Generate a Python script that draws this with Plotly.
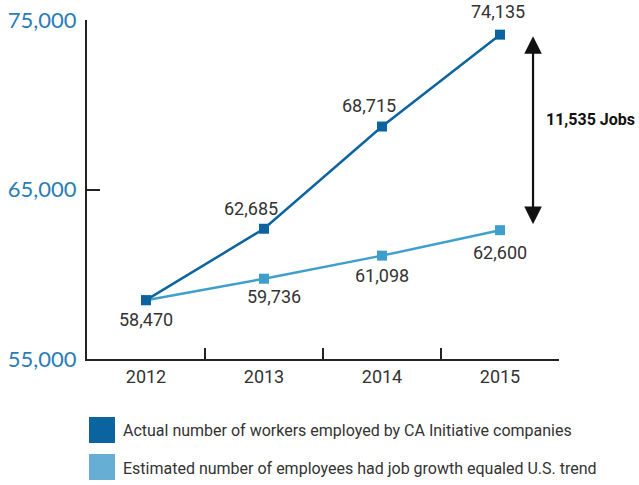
import plotly.graph_objects as go

# ---- data ----
years = ["2012", "2013", "2014", "2015"]
actual = [58470, 62685, 68715, 74135]
estimated = [58470, 59736, 61098, 62600]
y_ticks = [55000, 65000, 75000]
legend_labels = [
    "Actual number of workers employed by CA Initiative companies",
    "Estimated number of employees had job growth equaled U.S. trend",
]

# ---- style ----
W, H = 639, 485
L, R, T, B = 87, 80, 20, 126
DARK = "#0b64a0"
LIGHT = "#3f9fcc"
LEG_LIGHT = "#66aed4"
TXT = "#333333"
COND = "Roboto, Liberation Sans, sans-serif"

pw, ph = W - L - R, H - T - B


def px(x):
    return (x - L) / pw


def py(y):
    return (H - B - y) / ph


fig = go.Figure()
fig.add_trace(go.Scatter(x=years, y=estimated, mode="lines+markers",
                         line=dict(color=LIGHT, width=2.5),
                         marker=dict(symbol="square", size=10, color=LIGHT),
                         showlegend=False, cliponaxis=False))
fig.add_trace(go.Scatter(x=years, y=actual, mode="lines+markers",
                         line=dict(color=DARK, width=2.5),
                         marker=dict(symbol="square", size=10, color=DARK),
                         showlegend=False, cliponaxis=False))

ann = []
act_off = [(0, -19), (-13, 20), (-13, 21), (-2, 23)]
est_off = [None, (10, -18), (0, -20), (0, -22)]
for i, v in enumerate(actual):
    dx, dy = act_off[i]
    ann.append(dict(x=i, y=v, xref="x", yref="y", text=f"{v:,}", showarrow=False,
                    xanchor="center", yanchor="middle",
                    xshift=dx, yshift=dy, font=dict(family=COND, size=18, color=TXT)))
for i, v in enumerate(estimated):
    if est_off[i] is None:
        continue
    dx, dy = est_off[i]
    ann.append(dict(x=i, y=v, xref="x", yref="y", text=f"{v:,}", showarrow=False,
                    xanchor="center", yanchor="middle",
                    xshift=dx, yshift=dy, font=dict(family=COND, size=18, color=TXT)))

# double-headed gap arrow
ann.append(dict(x=3.28, y=estimated[-1], xref="x", yref="y",
                ax=3.28, ay=actual[-1], axref="x", ayref="y",
                showarrow=True, arrowhead=2, startarrowhead=2, arrowside="end+start",
                arrowsize=1.6, startarrowsize=1.6, arrowwidth=2.2, arrowcolor="#111111",
                standoff=6, startstandoff=0, text=""))
gap = actual[-1] - estimated[-1]
ann.append(dict(x=px(637), y=py(119), xref="paper", yref="paper", xanchor="right",
                yanchor="middle", text=f"<b>{gap:,} Jobs</b>", showarrow=False,
                font=dict(family=COND, size=16, color="#111111")))

# legend
shapes = []
for i, (lab, col) in enumerate(zip(legend_labels, [DARK, LEG_LIGHT])):
    y0 = 417 + i * 37
    shapes.append(dict(type="rect", xref="paper", yref="paper",
                       x0=px(89), x1=px(115), y0=py(y0), y1=py(y0 + 26),
                       fillcolor=col, line=dict(width=0)))
    ann.append(dict(x=px(121), y=py(y0 + 14), xref="paper", yref="paper",
                    xanchor="left", yanchor="middle", text=lab, showarrow=False,
                    font=dict(family=COND, size=16, color=TXT)))

fig.update_layout(
    width=W, height=H,
    margin=dict(l=L, r=R, t=T, b=B),
    paper_bgcolor="white", plot_bgcolor="white",
    annotations=ann, shapes=shapes,
    xaxis=dict(type="category", categoryorder="array", categoryarray=years,
               range=[-0.5, 3.5], showgrid=False, zeroline=False, automargin=False,
               showline=True, linecolor="#222222", linewidth=2,
               ticks="inside", tickson="boundaries", ticklen=11, tickwidth=1.5,
               tickcolor="#222222",
               tickfont=dict(family=COND, size=18, color=TXT)),
    yaxis=dict(range=[55000, 75000], tickvals=y_ticks,
               ticktext=[f"{v:,}" for v in y_ticks],
               showgrid=False, zeroline=False, automargin=False,
               showline=True, linecolor="#222222", linewidth=2,
               ticks="inside", ticklen=13, tickwidth=1.5, tickcolor="#222222",
               ticklabelstandoff=4,
               tickfont=dict(family="Lato, Open Sans, sans-serif", size=22, color="#2a7db6")),
)

fig.write_html("out.html")
